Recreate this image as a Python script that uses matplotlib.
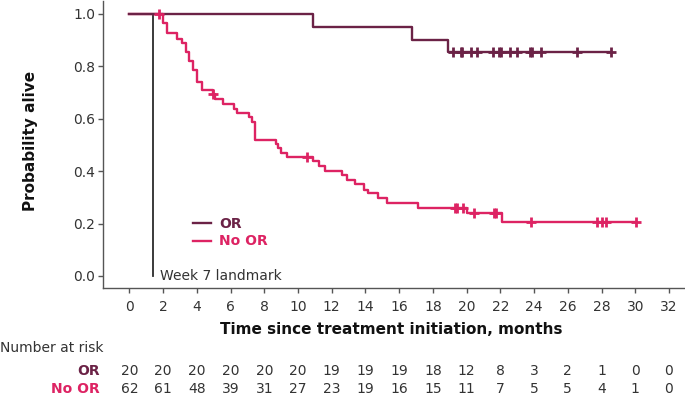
import numpy as np
import matplotlib
matplotlib.use("Agg")
import matplotlib.pyplot as plt
from matplotlib.lines import Line2D
import matplotlib.transforms as mtransforms

# ──────────────────────────────────────────────
# Data
# ──────────────────────────────────────────────
LANDMARK = 1.4

or_times = [0, 10.9, 16.75, 18.92]
or_surv = [1.0, 0.95, 0.90, 0.855]
or_end = 28.59
or_censor = [19.2, 19.65, 19.72, 20.25, 20.62, 21.57, 21.93, 22.02, 22.6,
             22.96, 23.78, 23.86, 24.44, 26.57, 28.59]

noor_times = [0, 2.02, 2.23, 2.85, 3.10, 3.36, 3.56, 3.79, 4.02, 4.29, 4.95,
              5.08, 5.53, 6.22, 6.38, 7.10, 7.29, 7.45, 8.69, 8.84, 8.97,
              9.36, 10.87, 11.23, 11.58, 12.59, 12.88, 13.37, 13.91, 14.17,
              14.76, 15.29, 17.11, 20.05, 22.07]
noor_surv = [1.0, 0.967, 0.926, 0.903, 0.888, 0.856, 0.821, 0.786, 0.742,
             0.708, 0.693, 0.676, 0.657, 0.636, 0.621, 0.605, 0.587, 0.520,
             0.504, 0.487, 0.468, 0.453, 0.438, 0.420, 0.401, 0.385, 0.366,
             0.350, 0.328, 0.316, 0.297, 0.280, 0.261, 0.241, 0.207]
noor_end = 30.03
noor_censor = [1.78, 4.98, 10.55, 19.3, 19.45, 19.78, 20.45, 21.62, 21.77,
               23.82, 27.74, 28.03, 28.29, 30.03]

risk_times = list(range(0, 33, 2))
risk_or = [20, 20, 20, 20, 20, 20, 19, 19, 19, 18, 12, 8, 3, 2, 1, 0, 0]
risk_noor = [62, 61, 48, 39, 31, 27, 23, 19, 16, 15, 11, 7, 5, 5, 4, 1, 0]

OR_COLOR = "#6b2246"
NOOR_COLOR = "#dd2363"
TEXT_COLOR = "#333333"

plt.rcParams["font.family"] = ["DejaVu Sans"]

W, H = 685, 399
fig = plt.figure(figsize=(W / 100, H / 100), dpi=100)
ax = fig.add_axes([102.7 / W, 1 - 287.7 / H, (W - 102.7) / W, (287.7 - 1) / H])


def step_curve(times, surv, end):
    x = np.array(list(times) + [end])
    y = np.array(list(surv) + [surv[-1]])
    return x, y


def censor_y(times, surv, cens):
    idx = np.searchsorted(np.array(times), np.array(cens), side="right") - 1
    return np.array(surv)[idx]


# curves
for t, s, end, cens, col in [
    (noor_times, noor_surv, noor_end, noor_censor, NOOR_COLOR),
    (or_times, or_surv, or_end, or_censor, OR_COLOR),
]:
    x, y = step_curve(t, s, end)
    ax.plot(x, y, drawstyle="steps-post", color=col, lw=1.7, zorder=3)
    ax.plot(cens, censor_y(t, s, cens), ls="none", marker="+", ms=7.5,
            mew=2.0, color=col, zorder=4)

# landmark line
ax.plot([LANDMARK, LANDMARK], [0, 1.0], color="#2b2b2b", lw=1.3, zorder=2)
ax.text(LANDMARK + 0.42, 0.0, "Week 7 landmark", ha="left", va="center",
        fontsize=10, color=TEXT_COLOR)

# axes
ax.set_xlim(-1.58, 32.95)
ax.set_ylim(-0.0447, 1.0496)
ax.set_xticks(risk_times)
ax.set_yticks(np.arange(0, 1.01, 0.2))
ax.set_yticklabels([f"{v:.1f}" for v in np.arange(0, 1.01, 0.2)])
for sp in ["top", "right"]:
    ax.spines[sp].set_visible(False)
for sp in ["left", "bottom"]:
    ax.spines[sp].set_color("#555555")
    ax.spines[sp].set_linewidth(1.0)
ax.tick_params(axis="both", length=3.5, width=1.0, color="#555555",
               labelsize=10, labelcolor=TEXT_COLOR)
ax.tick_params(axis="x", pad=5)
ax.tick_params(axis="y", pad=2)

# legend
handles = [Line2D([], [], color=OR_COLOR, lw=1.7),
           Line2D([], [], color=NOOR_COLOR, lw=1.7)]
leg = ax.legend(handles, ["OR", "No OR"], loc="upper left",
                bbox_to_anchor=(192.7 / W, 1 - 216.5 / H),
                bbox_transform=fig.transFigure, frameon=False, fontsize=10,
                borderpad=0, borderaxespad=0, handlelength=1.35,
                handletextpad=0.55, labelspacing=0.28)
for txt, col in zip(leg.get_texts(), [OR_COLOR, NOOR_COLOR]):
    txt.set_color(col)
    txt.set_fontweight("bold")

# axis titles
fig.text(31 / W, 1 - 141 / H, "Probability alive", rotation=90,
         ha="center", va="center", fontsize=11, fontweight="bold",
         color="#111111")
fig.text(391 / W, 1 - 329 / H, "Time since treatment initiation, months",
         ha="center", va="center", fontsize=11, fontweight="bold",
         color="#111111")

# number at risk table
fig.text(0.0, 1 - 347.5 / H, "Number at risk", ha="left", va="center",
         fontsize=10, color=TEXT_COLOR)
trans = mtransforms.blended_transform_factory(ax.transData, fig.transFigure)
for label, counts, col, ypix in [("OR", risk_or, OR_COLOR, 370.7),
                                  ("No OR", risk_noor, NOOR_COLOR, 389.3)]:
    fig.text(99.5 / W, 1 - ypix / H, label, ha="right", va="center",
             fontsize=10, fontweight="bold", color=col)
    for t, n in zip(risk_times, counts):
        ax.text(t, 1 - ypix / H, str(n), transform=trans, ha="center",
                va="center", fontsize=10, color=TEXT_COLOR, clip_on=False)

fig.savefig("out.png", dpi=100)
